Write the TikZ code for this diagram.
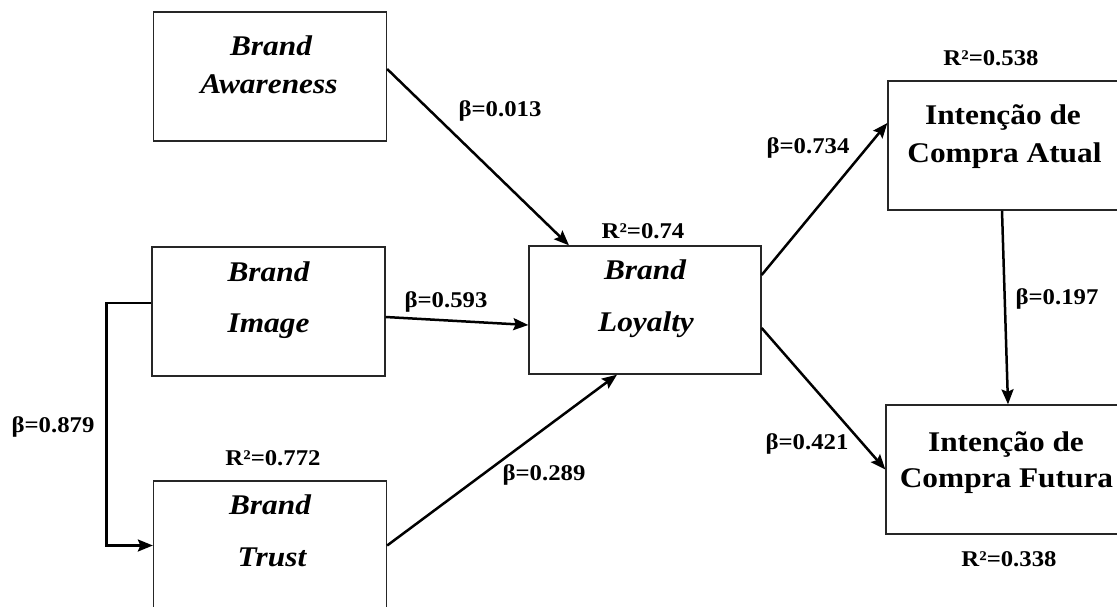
\documentclass[tikz,border=0pt]{standalone}
\usepackage{fontspec}
\setmainfont{Liberation Serif}[FakeStretch=1.1]
\usetikzlibrary{arrows.meta,calc}
\tikzset{
  box/.style={draw=black!85, line width=1.3pt, minimum width=233pt, minimum height=129pt, inner sep=0pt},
  brandtxt/.style={anchor=base, inner sep=0pt, font=\fontsize{28.5}{34}\selectfont\bfseries\itshape},
  inttxt/.style={anchor=base, inner sep=0pt, font=\fontsize{28.5}{34}\selectfont\bfseries},
  lbl/.style={anchor=base, inner sep=0pt, font=\fontsize{22.5}{26}\selectfont\bfseries},
  arr/.style={line width=2.5pt, -{Stealth[length=15pt,width=12pt,inset=2.5pt]}}
}
\begin{document}
\begin{tikzpicture}[x=1pt,y=-1pt]
\clip (0,0) rectangle (1117,607);
\fill[white] (0,0) rectangle (1117,607);
% boxes
\node[box] (aw) at (270,76.5) {};
\node[box] (im) at (268.5,311.5) {};
\node[box] (tr) at (270,545.5) {};
\node[box, minimum width=232pt, minimum height=128pt] (lo) at (645,310) {};
\node[box, minimum width=234pt] (at) at (1005,145.5) {};
\node[box, minimum width=234pt] (fu) at (1003,469.5) {};
% box texts
\node[brandtxt] (aw1) at (271,56) {Brand};
\node[brandtxt] (aw2) at (269,94) {Awareness};
\node[brandtxt] (im1) at (268.5,281) {Brand};
\node[brandtxt] (im2) at (268.5,332) {Image};
\node[brandtxt] (tr1) at (270,514) {Brand};
\node[brandtxt] (tr2) at (272,566) {Trust};
\node[brandtxt] (lo1) at (645,279) {Brand};
\node[brandtxt] (lo2) at (646,331) {Loyalty};
\node[inttxt] (at1) at (1003,125) {Intenção de};
\node[inttxt] (at2) at (1004.5,163) {Compra Atual};
\node[inttxt] (fu1) at (1006,451) {Intenção de};
\node[inttxt] (fu2) at (1006.5,487) {Compra Futura};
% labels
\node[lbl] (b1) at (500,117) {β=0.013};
\node[lbl] (b2) at (446,307) {β=0.593};
\node[lbl] (b3) at (53,432) {β=0.879};
\node[lbl] (r1) at (273,465) {R²=0.772};
\node[lbl] (b4) at (544,480) {β=0.289};
\node[lbl] (r2) at (643,238) {R²=0.74};
\node[lbl] (b5) at (808,154) {β=0.734};
\node[lbl] (r3) at (991,66) {R²=0.538};
\node[lbl] (b6) at (1057,304) {β=0.197};
\node[lbl] (b7) at (807,449) {β=0.421};
\node[lbl] (r4) at (1009,566) {R²=0.338};
% connectors
\draw[arr] ([yshift=7.5pt]aw.east) -- ([xshift=-76pt]lo.north);
\draw[arr] ([yshift=-5.5pt]im.east) -- ([yshift=-15pt]lo.west);
\draw[arr] (tr.east) -- ([xshift=-28pt]lo.south);
\draw[arr] ([yshift=35pt]lo.east) -- ([yshift=22.5pt]at.west);
\draw[arr] ([yshift=-18pt]lo.east) -- (fu.west);
\draw[arr] ([xshift=-3pt]at.south) -- ([xshift=5pt]fu.north);
\draw[arr] ([yshift=8.5pt]im.west) -- ++(-45,0) |- (tr.west);
\end{tikzpicture}
\end{document}
